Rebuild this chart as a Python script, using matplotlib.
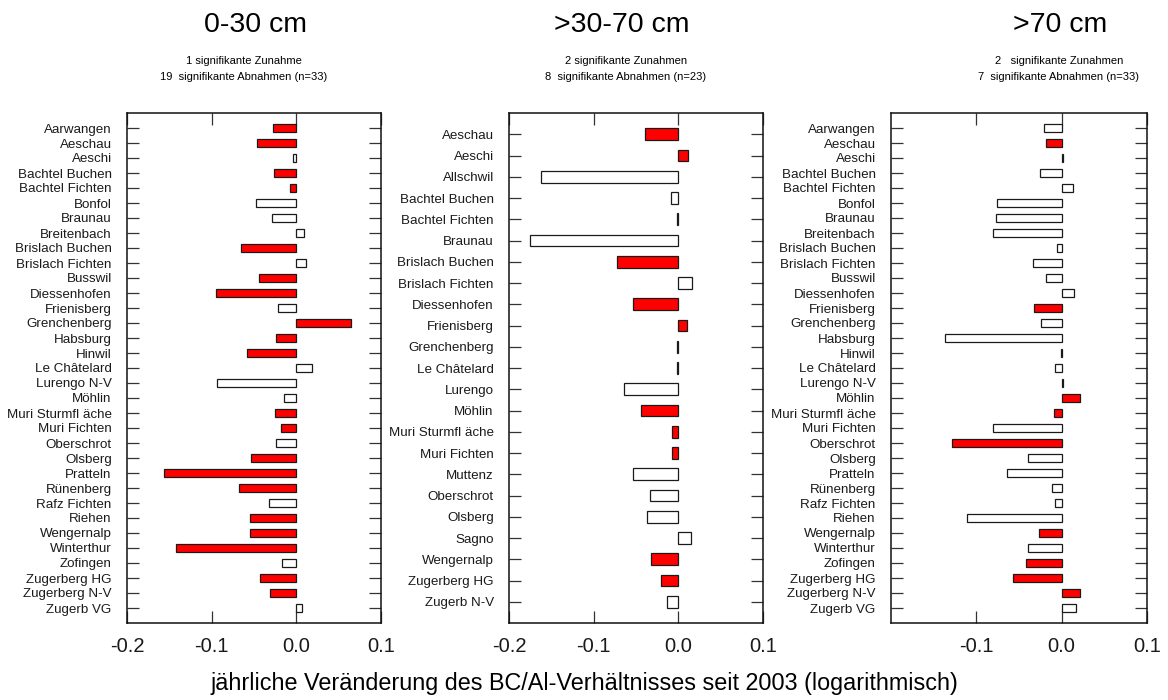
import matplotlib
matplotlib.use("Agg")
import matplotlib.pyplot as plt

plt.rcParams['font.family'] = ['Liberation Sans', 'DejaVu Sans']

# ---- data: annual change of the BC/Al ratio since 2003 (log scale) ----
sites_top = ["Aarwangen", "Aeschau", "Aeschi", "Bachtel Buchen", "Bachtel Fichten",
             "Bonfol", "Braunau", "Breitenbach", "Brislach Buchen", "Brislach Fichten",
             "Busswil", "Diessenhofen", "Frienisberg", "Grenchenberg", "Habsburg",
             "Hinwil", "Le Châtelard", "Lurengo N-V", "Möhlin", "Muri Sturmfl äche",
             "Muri Fichten", "Oberschrot", "Olsberg", "Pratteln", "Rünenberg",
             "Rafz Fichten", "Riehen", "Wengernalp", "Winterthur", "Zofingen",
             "Zugerberg HG", "Zugerberg N-V", "Zugerb VG"]
change_top = [-0.027, -0.046, -0.004, -0.026, -0.007,
              -0.048, -0.029, 0.009, -0.065, 0.012,
              -0.044, -0.095, -0.022, 0.065, -0.024,
              -0.058, 0.018, -0.094, -0.014, -0.025,
              -0.018, -0.024, -0.054, -0.156, -0.068,
              -0.032, -0.055, -0.055, -0.142, -0.017,
              -0.043, -0.031, 0.007]
signif_top = [1, 1, 0, 1, 1,
              0, 0, 0, 1, 0,
              1, 1, 0, 1, 1,
              1, 0, 0, 0, 1,
              1, 0, 1, 1, 1,
              0, 1, 1, 1, 0,
              1, 1, 0]

sites_mid = ["Aeschau", "Aeschi", "Allschwil", "Bachtel Buchen", "Bachtel Fichten",
             "Braunau", "Brislach Buchen", "Brislach Fichten", "Diessenhofen",
             "Frienisberg", "Grenchenberg", "Le Châtelard", "Lurengo", "Möhlin",
             "Muri Sturmfl äche", "Muri Fichten", "Muttenz", "Oberschrot", "Olsberg",
             "Sagno", "Wengernalp", "Zugerberg HG", "Zugerb N-V"]
change_mid = [-0.039, 0.012, -0.162, -0.009, -0.0015,
              -0.175, -0.073, 0.016, -0.054,
              0.010, -0.0012, -0.002, -0.064, -0.044,
              -0.008, -0.008, -0.053, -0.034, -0.037,
              0.015, -0.032, -0.021, -0.013]
signif_mid = [1, 1, 0, 0, 0,
              0, 1, 0, 1,
              1, 0, 0, 0, 1,
              1, 1, 0, 0, 0,
              0, 1, 1, 0]

sites_deep = sites_top
change_deep = [-0.021, -0.018, 0.0016, -0.025, 0.013,
               -0.076, -0.077, -0.080, -0.0055, -0.034,
               -0.018, 0.014, -0.033, -0.024, -0.137,
               -0.0005, -0.008, 0.002, 0.022, -0.009,
               -0.081, -0.128, -0.040, -0.064, -0.011,
               -0.0075, -0.111, -0.027, -0.040, -0.042,
               -0.057, 0.021, 0.0165]
signif_deep = [0, 1, 0, 0, 0,
               0, 0, 0, 0, 0,
               0, 0, 1, 0, 0,
               0, 0, 0, 1, 1,
               0, 1, 0, 0, 0,
               0, 0, 1, 0, 1,
               1, 1, 0]

depth_titles = ["0-30 cm", ">30-70 cm", ">70 cm"]
summary_lines = [("1 signifikante Zunahme", "19  signifikante Abnahmen (n=33)"),
                 ("2 signifikante Zunahmen", "8  signifikante Abnahmen (n=23)"),
                 ("2   signifikante Zunahmen", "7  signifikante Abnahmen (n=33)")]
x_ticks = [[-0.2, -0.1, 0.0, 0.1], [-0.2, -0.1, 0.0, 0.1], [-0.1, 0.0, 0.1]]
x_tick_labels = [["-0.2", "-0.1", "0.0", "0.1"], ["-0.2", "-0.1", "0.0", "0.1"],
                 ["-0.1", "0.0", "0.1"]]
x_label = "jährliche Veränderung des BC/Al-Verhältnisses seit 2003 (logarithmisch)"

# ---- layout (pixel geometry of a 1168 x 700 canvas) ----
W, H = 1168, 700
fig = plt.figure(figsize=(W / 100, H / 100), dpi=100)

panel_left = [127, 509, 891]
panel_width = [254, 254, 256]
panel_top, panel_bottom = 113, 623
title_x = [256, 622, 1060]
summary_x = [244, 626, 1059]

panels = [(sites_top, change_top, signif_top),
          (sites_mid, change_mid, signif_mid),
          (sites_deep, change_deep, signif_deep)]

for i, (sites, change, signif) in enumerate(panels):
    ax = fig.add_axes([panel_left[i] / W, 1 - panel_bottom / H,
                       panel_width[i] / W, (panel_bottom - panel_top) / H])
    n = len(sites)
    colors = ["#ff0000" if s else "white" for s in signif]
    ax.barh(range(n), change, height=0.55, color=colors,
            edgecolor="#1a1a1a", linewidth=0.9, zorder=3)
    ax.set_xlim(-0.2, 0.1)
    ax.set_ylim(n, -1)
    ax.set_yticks(range(n))
    ax.set_yticklabels(sites, fontsize=9.6, color="#1a1a1a")
    ax.set_xticks(x_ticks[i])
    ax.set_xticklabels(x_tick_labels[i], fontsize=14.5, color="#1a1a1a")
    ax.tick_params(axis="both", direction="in", length=8.6, width=0.9,
                   color="#333333", top=True, right=True)
    ax.tick_params(axis="x", pad=10)
    ax.tick_params(axis="y", pad=11)
    for sp in ax.spines.values():
        sp.set_linewidth(1.1)
        sp.set_color("#111111")

    fig.text(title_x[i] / W, 1 - 32 / H, depth_titles[i], fontsize=20.5,
             ha="center", va="baseline")
    fig.text(summary_x[i] / W, 1 - 64 / H, summary_lines[i][0], fontsize=8,
             ha="center", va="baseline")
    fig.text(summary_x[i] / W, 1 - 80 / H, summary_lines[i][1], fontsize=8,
             ha="center", va="baseline")

fig.text(584 / W, 1 - 690 / H, x_label, fontsize=16.8, ha="center", va="baseline")

fig.savefig("out.png", dpi=100)
